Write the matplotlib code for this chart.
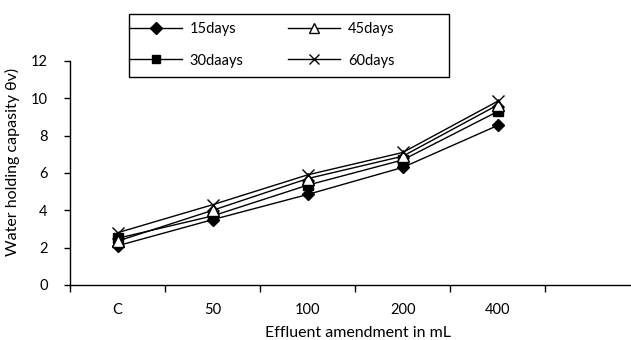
import matplotlib.pyplot as plt
from matplotlib.patches import Rectangle

plt.rcParams['font.family'] = ['Lato', 'DejaVu Sans']

# data
categories = ['C', '50', '100', '200', '400']
days15 = [2.1, 3.5, 4.85, 6.3, 8.55]
days30 = [2.5, 3.7, 5.35, 6.7, 9.3]
days45 = [2.35, 4.0, 5.7, 6.9, 9.65]
days60 = [2.8, 4.3, 5.9, 7.1, 9.85]
series_names = ['15days', '30daays', '45days', '60days']

fig = plt.figure(figsize=(6.31, 3.40), dpi=100)
ax = fig.add_axes([0.1109, 0.1618, 0.8891, 0.6588])

x = list(range(len(categories)))
ax.plot(x, days15, color='black', lw=1, marker='D', ms=6.5, mfc='black', mec='black', label=series_names[0])
ax.plot(x, days30, color='black', lw=1, marker='s', ms=6.5, mfc='black', mec='black', label=series_names[1])
ax.plot(x, days45, color='black', lw=1, marker='^', ms=8, mfc='white', mec='black', label=series_names[2])
ax.plot(x, days60, color='black', lw=1, marker='x', ms=8, mec='black', mew=1, label=series_names[3])

ax.set_ylim(0, 12)
ax.set_yticks(range(0, 13, 2))
ax.set_xlim(-0.5, 5.4)
ax.set_xticks([i - 0.5 for i in range(6)])
ax.set_xticklabels([])
ax.set_xticks(x, minor=True)
ax.set_xticklabels(categories, minor=True)

ax.tick_params(axis='x', which='major', direction='out', length=5, width=1)
ax.tick_params(axis='x', which='minor', length=0, pad=13, labelsize=10.5)
ax.tick_params(axis='y', direction='out', length=4, width=1, pad=12, labelsize=10.5)

for s in ['top', 'right']:
    ax.spines[s].set_visible(False)
for s in ['left', 'bottom']:
    ax.spines[s].set_linewidth(1)

ax.set_ylabel('Water holding capasity θv)', fontsize=11.5)
ax.yaxis.set_label_coords(-0.089, 0.55)
ax.set_xlabel('Effluent amendment in mL', fontsize=11.5)
ax.xaxis.set_label_coords(0.513, -0.215)
ax.xaxis.label.set_va('center')

# legend box
fig.patches.append(Rectangle((129 / 631, 1 - 77 / 340), 320 / 631, 63 / 340,
                             transform=fig.transFigure, fill=False,
                             edgecolor='black', lw=1))
fig.legend(loc='upper left', bbox_to_anchor=(0.205, 0.935), ncol=2, frameon=False,
           fontsize=10.5, handlelength=3.6, handletextpad=0.55, columnspacing=3.0,
           labelspacing=1.2, borderpad=0, borderaxespad=0, markerscale=0.9)

fig.savefig('out.png', dpi=100)
